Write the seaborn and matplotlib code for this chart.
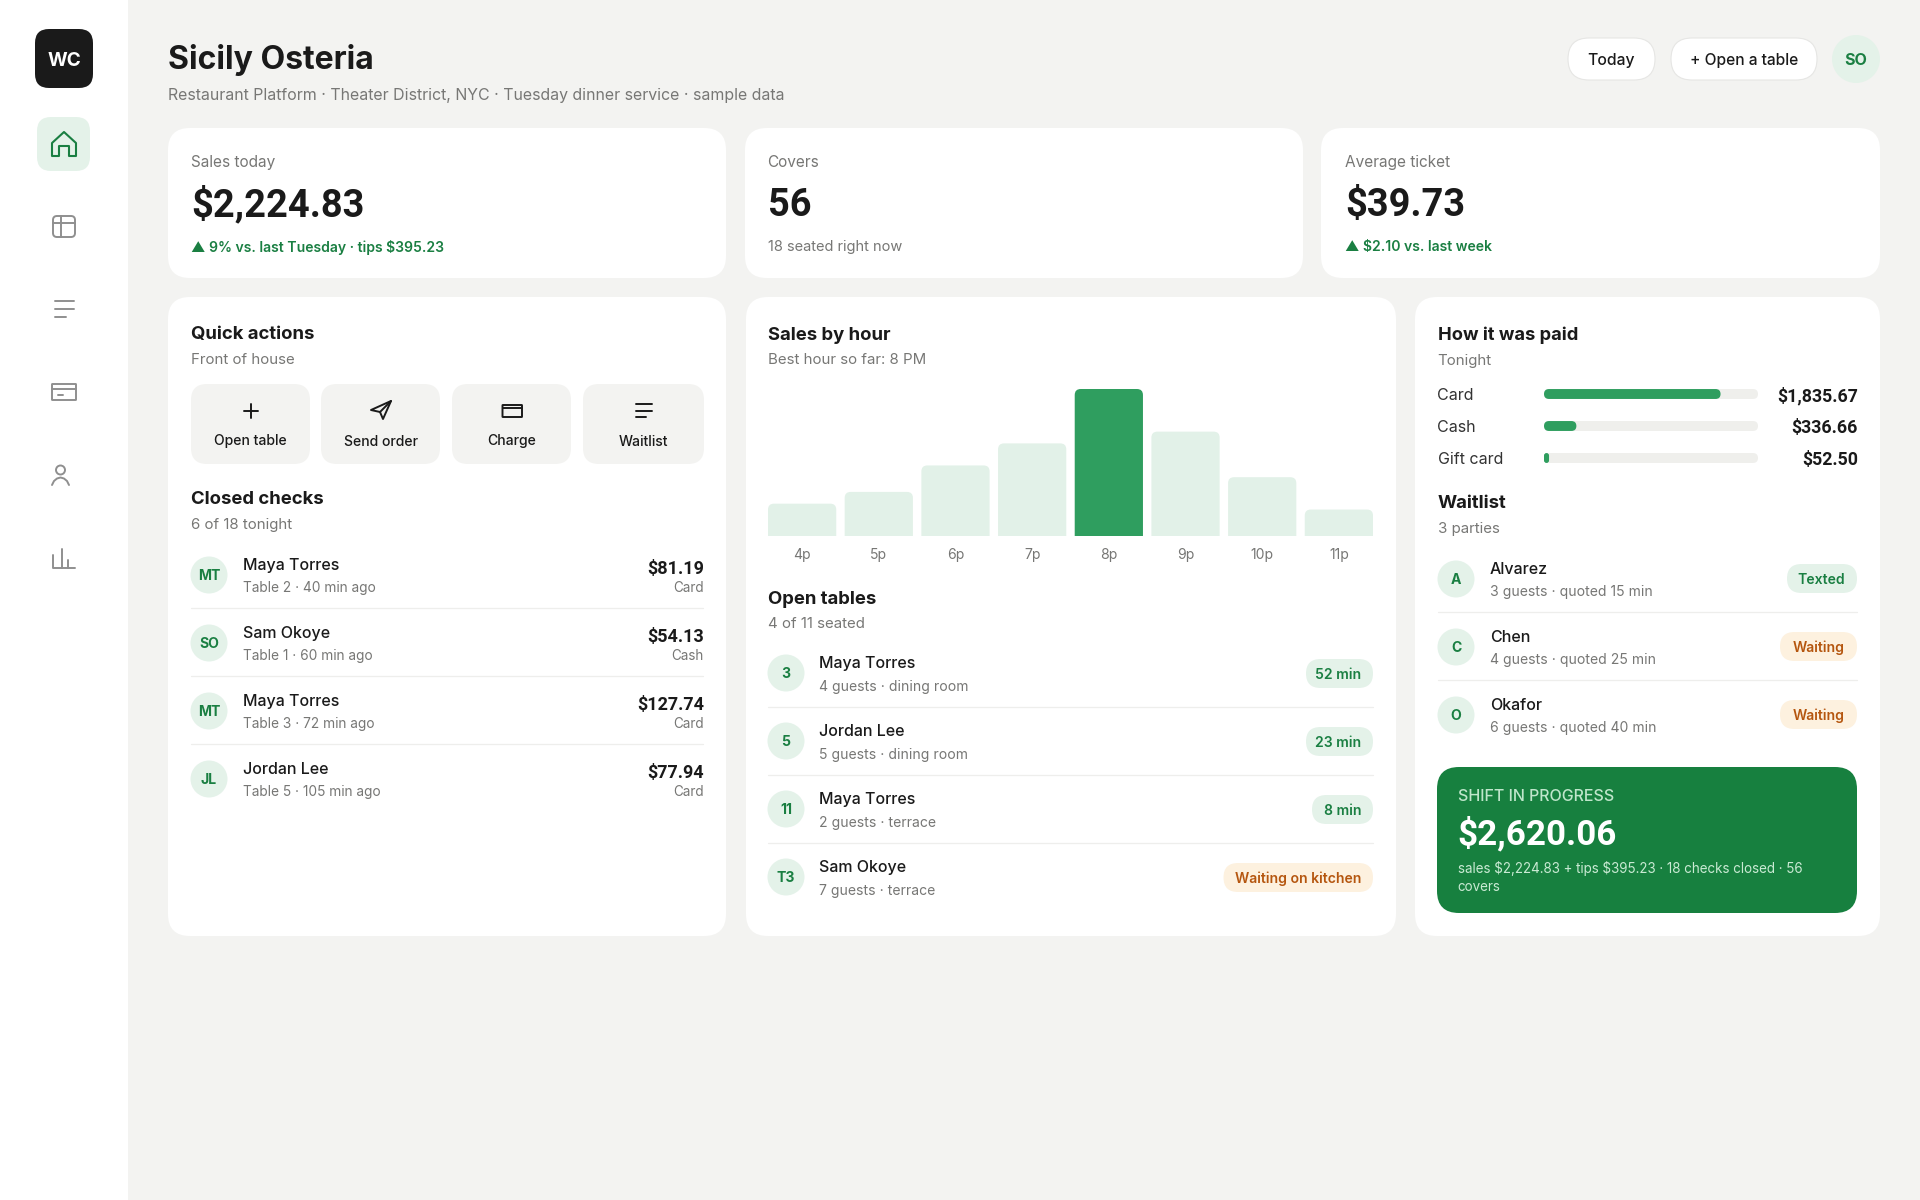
import matplotlib
matplotlib.use("Agg")
import matplotlib.pyplot as plt
import pandas as pd
import seaborn as sns
from matplotlib.patches import Circle, FancyBboxPatch, Polygon
from matplotlib.transforms import IdentityTransform

# data
kpi_labels = ["Sales today", "Covers", "Average ticket"]
kpi_values = ["$2,224.83", "56", "$39.73"]
kpi_notes = ["▲ 9% vs. last Tuesday · tips $395.23", "18 seated right now", "▲ $2.10 vs. last week"]
action_labels = ["Open table", "Send order", "Charge", "Waitlist"]

hour_labels = ["4p", "5p", "6p", "7p", "8p", "9p", "10p", "11p"]
hour_share = [22, 30, 48, 63, 100, 71, 40, 18]  # % of the best hour

pay_labels = ["Card", "Cash", "Gift card"]
pay_values = [1835.67, 336.66, 52.50]
pay_text = ["$1,835.67", "$336.66", "$52.50"]
pay_total = 2224.83

check_initials = ["MT", "SO", "MT", "JL"]
check_names = ["Maya Torres", "Sam Okoye", "Maya Torres", "Jordan Lee"]
check_subs = ["Table 2 · 40 min ago", "Table 1 · 60 min ago", "Table 3 · 72 min ago", "Table 5 · 105 min ago"]
check_amounts = ["$81.19", "$54.13", "$127.74", "$77.94"]
check_methods = ["Card", "Cash", "Card", "Card"]

table_ids = ["3", "5", "11", "T3"]
table_names = ["Maya Torres", "Jordan Lee", "Maya Torres", "Sam Okoye"]
table_subs = ["4 guests · dining room", "5 guests · dining room", "2 guests · terrace", "7 guests · terrace"]
table_status = ["52 min", "23 min", "8 min", "Waiting on kitchen"]

wait_initials = ["A", "C", "O"]
wait_names = ["Alvarez", "Chen", "Okafor"]
wait_subs = ["3 guests · quoted 15 min", "4 guests · quoted 25 min", "6 guests · quoted 40 min"]
wait_status = ["Texted", "Waiting", "Waiting"]

BG = "#f3f3f1"
INK = "#1a1a1a"
GRAY = "#777775"
GREEN = "#1a7f42"
MID_GREEN = "#2f9e5f"
PALE = "#e4f2e9"
AMBER_BG = "#fdf1df"
AMBER = "#b5560f"
RULE = "#eeeeec"
ICON = "#8f8f8f"
NUM_FONT = ["Roboto", "DejaVu Sans"]

sns.set_theme(style="white")
plt.rcParams["font.family"] = ["Inter", "DejaVu Sans"]

fig = plt.figure(figsize=(19.2, 12), dpi=100, facecolor=BG)
ui = fig.add_axes([0, 0, 1, 1])
ui.set_xlim(0, 1920)
ui.set_ylim(1200, 0)
ui.axis("off")


def px_axes(x0, y0, x1, y1):
    ax = fig.add_axes([x0 / 1920, 1 - y1 / 1200, (x1 - x0) / 1920, (y1 - y0) / 1200])
    ax.patch.set_alpha(0)
    sns.despine(ax=ax, left=True, bottom=True)
    return ax


def box(x0, y0, x1, y1, r, color, edge="none", lw=0, zorder=1):
    ui.add_patch(FancyBboxPatch((x0 + r, y0 + r), x1 - x0 - 2 * r, y1 - y0 - 2 * r,
                                boxstyle=f"round,pad={r},rounding_size={r}",
                                fc=color, ec=edge, lw=lw, zorder=zorder))


def txt(x, y, s, px, color=INK, weight="normal", ha="left", family=None):
    ui.text(x, y, s, fontsize=px * 0.72, color=color, fontweight=weight, ha=ha,
            va="center_baseline", zorder=5, parse_math=False, family=family)


def line(xs, ys, color=ICON, lw=1.4):
    ui.plot(xs, ys, color=color, lw=lw, solid_capstyle="round", solid_joinstyle="round", zorder=4)


def outline(x0, y0, x1, y1, color=ICON, r=1.5):
    box(x0, y0, x1, y1, r, "none", edge=color, lw=1.4, zorder=4)


def avatar(x, y, s, r=18.5, px=14):
    ui.add_patch(Circle((x, y), r, fc=PALE, ec="none", zorder=2))
    txt(x, y, s, px, GREEN, "bold", "center")


def pill(right, left, y0, y1, s, text_right, fg, bg):
    box(left, y0, right, y1, (y1 - y0) / 2, bg, zorder=2)
    txt(text_right, (y0 + y1) / 2, s, 14, fg, "semibold", "right")


def round_bars(ax, r, square_bottom=False):
    # swap each seaborn bar for a rounded one at the same place, in display pixels
    for bar in list(ax.patches):
        ext = bar.get_window_extent()
        y0 = ext.y0 - 2 * r if square_bottom else ext.y0
        rad = min(r, ext.width / 2)
        ax.add_patch(FancyBboxPatch((ext.x0 + rad, y0 + rad), ext.width - 2 * rad, ext.y1 - y0 - 2 * rad,
                                    boxstyle=f"round,pad={rad},rounding_size={rad}",
                                    fc=bar.get_facecolor(), ec="none",
                                    transform=IdentityTransform(), zorder=bar.get_zorder()))
        bar.set_visible(False)


# sidebar
ui.add_patch(plt.Rectangle((0, 0), 128, 1200, fc="white", ec="none", zorder=0))
box(35, 29, 93, 88, 14, INK)
txt(64, 59, "WC", 19, "white", "bold", "center")
box(37, 117, 90, 171, 14, PALE)
ui.add_patch(Polygon([(52, 156), (52, 143), (64, 132), (76, 143), (76, 156), (69, 156), (69, 146), (59, 146), (59, 156)],
                     closed=True, fc="none", ec=GREEN, lw=1.5, joinstyle="round", zorder=4))
outline(53, 216, 75, 237, r=4)
line([53, 75], [223, 223])
line([61, 61], [216, 237])
line([55, 74], [301, 301])
line([55, 74], [309, 309])
line([55, 66], [317, 317])
outline(52, 384, 76, 400, r=0.5)
line([52, 76], [389, 389])
line([58, 63], [395, 395])
ui.add_patch(Circle((60.5, 470), 4.5, fc="none", ec=ICON, lw=1.4, zorder=4))
line([52, 54, 57, 60.5, 64, 67, 69], [485, 481, 478.5, 477.5, 478.5, 481, 485])
line([53, 53, 75, 75], [555, 568, 568, 568])
line([62, 62], [549, 568])
line([68, 68], [560, 568])

# header
txt(168, 56, "Sicily Osteria", 32, INK, "bold")
txt(168, 94, "Restaurant Platform · Theater District, NYC · Tuesday dinner service · sample data", 15.9, GRAY)
box(1568, 38, 1655, 80, 21, "white", edge="#e6e6e4", lw=0.8)
txt(1611.5, 59, "Today", 15.7, INK, "medium", "center")
box(1671, 38, 1817, 80, 21, "white", edge="#e6e6e4", lw=0.8)
txt(1744, 59, "+ Open a table", 15.5, INK, "medium", "center")
avatar(1856, 59, "SO", r=24, px=16)

# KPI cards
card_x = [(168, 726), (745, 1303), (1321, 1880)]
text_x = [191, 767.5, 1345]
for (x0, x1), tx, label, value, note in zip(card_x, text_x, kpi_labels, kpi_values, kpi_notes):
    box(x0, 128, x1, 278, 22, "white")
    txt(tx, 161, label, 15.4, GRAY)
    txt(tx, 201, value, 38, INK, "bold", family=NUM_FONT)
    if note.startswith("18"):
        txt(tx, 246, note, 14.6, GRAY)
    else:
        txt(tx, 246, note, 14, GREEN, "semibold")

# lower panels
box(168, 297, 726, 936, 22, "white")
box(746, 297, 1396, 936, 22, "white")
box(1415, 297, 1880, 936, 22, "white")

# quick actions
txt(191, 333, "Quick actions", 18.5, INK, "bold")
txt(191, 359, "Front of house", 15, GRAY)
btn_x = [(191, 310), (321, 440), (452, 571), (583, 704)]
for (x0, x1), label in zip(btn_x, action_labels):
    box(x0, 384, x1, 464, 16, BG)
    txt((x0 + x1) / 2, 440, label, 14, INK, "medium", "center")
line([250.5, 250.5], [404, 418], INK)
line([243.5, 257.5], [411, 411], INK)
ui.add_patch(Polygon([(391, 401), (371, 410), (380, 412), (383, 419)], closed=True, fc="none", ec=INK, lw=1.4,
                     joinstyle="round", zorder=4))
line([380, 391], [412, 401], INK)
outline(502.5, 405, 522, 417, INK, r=0.5)
line([502.5, 522], [408, 408], INK)
line([636, 652], [404, 404], INK)
line([636, 652], [411, 411], INK)
line([636, 646], [417, 417], INK)

# closed checks
txt(191, 498, "Closed checks", 18.5, INK, "bold")
txt(191, 523, "6 of 18 tonight", 15, GRAY)
for i in range(4):
    y = 575 + 68 * i
    avatar(209, y, check_initials[i])
    txt(243, y - 11, check_names[i], 16, INK, "medium")
    txt(243, y + 11.5, check_subs[i], 13.7, GRAY)
    txt(704, y - 8, check_amounts[i], 18, INK, "bold", "right", family=NUM_FONT)
    txt(704, y + 11, check_methods[i], 13.5, GRAY, ha="right")
    if i < 3:
        line([191, 703], [y + 33, y + 33], RULE, 0.9)

# sales by hour
txt(768, 333, "Sales by hour", 18.5, INK, "bold")
txt(768, 359, "Best hour so far: 8 PM", 15, GRAY)
hours = pd.DataFrame({"hour": hour_labels, "share": hour_share})
ax_hours = px_axes(768, 389, 1373, 536)
sns.barplot(data=hours, x="hour", y="share", hue="hour", legend=False, width=0.89, saturation=1,
            palette=[MID_GREEN if s == max(hour_share) else "#e2f1e8" for s in hour_share], ax=ax_hours)
ax_hours.set_xlim(-0.445, 7.445)
ax_hours.set_ylim(0, 100)
ax_hours.set(xlabel="", ylabel="", yticks=[])
ax_hours.tick_params(axis="x", length=0, pad=9, labelsize=14 * 0.72, labelcolor=GRAY)
round_bars(ax_hours, 6, square_bottom=True)

# open tables
txt(768, 597, "Open tables", 18.5, INK, "bold")
txt(768, 623, "4 of 11 seated", 15, GRAY)
for i in range(4):
    y = 673 + 68 * i
    avatar(786, y, table_ids[i])
    txt(819, y - 11, table_names[i], 16, INK, "medium")
    txt(819, y + 12, table_subs[i], 14, GRAY)
    if "Waiting" in table_status[i]:
        pill(1373, 1223.5, y - 14, y + 15, table_status[i], 1361, AMBER, AMBER_BG)
    else:
        left = 1312 if table_status[i] == "8 min" else 1306
        pill(1373, left, y - 14, y + 15, table_status[i], 1361, GREEN, PALE)
    if i < 3:
        line([768, 1373], [y + 34, y + 34], RULE, 0.9)

# how it was paid
txt(1437.5, 333, "How it was paid", 18.3, INK, "bold")
txt(1437.5, 359, "Tonight", 15, GRAY)
pay = pd.DataFrame({"method": pay_labels, "amount": pay_values, "total": [pay_total] * 3})
ax_pay = px_axes(1544, 378, 1758, 474)
sns.barplot(data=pay, y="method", x="total", color="#efefec", width=0.31, saturation=1, ax=ax_pay)
sns.barplot(data=pay, y="method", x="amount", color=MID_GREEN, width=0.31, saturation=1, ax=ax_pay)
ax_pay.set_xlim(0, pay_total)
ax_pay.set(xlabel="", ylabel="", xticks=[], yticks=[])
round_bars(ax_pay, 5)
for i in range(3):
    y = 394 + 32 * i
    txt(1437.5, y, pay_labels[i], 16, "#333333")
    txt(1858, y, pay_text[i], 17.7, INK, "bold", "right", family=NUM_FONT)

# waitlist
txt(1437.5, 502, "Waitlist", 18.5, INK, "bold")
txt(1437.5, 528, "3 parties", 15, GRAY)
for i in range(3):
    y = 579 + 68 * i
    avatar(1456, y, wait_initials[i])
    txt(1490, y - 11, wait_names[i], 16, INK, "medium")
    txt(1490, y + 11.5, wait_subs[i], 14, GRAY)
    if wait_status[i] == "Texted":
        pill(1857, 1787, y - 15, y + 14, wait_status[i], 1845, GREEN, PALE)
    else:
        pill(1857, 1780, y - 15, y + 14, wait_status[i], 1845, AMBER, AMBER_BG)
    if i < 2:
        line([1438, 1857], [y + 33, y + 33], RULE, 0.9)

# shift banner
box(1437, 767, 1857, 913, 22, "#17803f")
txt(1457.5, 795, "SHIFT IN PROGRESS", 16, "#bfe6cb", "medium")
txt(1457.5, 830, "$2,620.06", 35, "white", "bold", family=NUM_FONT)
txt(1457.5, 867, "sales $2,224.83 + tips $395.23 · 18 checks closed · 56", 13.4, "#c9ead3")
txt(1457.5, 885.5, "covers", 13.4, "#c9ead3")

fig.savefig("out.png", dpi=100, facecolor=BG)
plt.close(fig)
